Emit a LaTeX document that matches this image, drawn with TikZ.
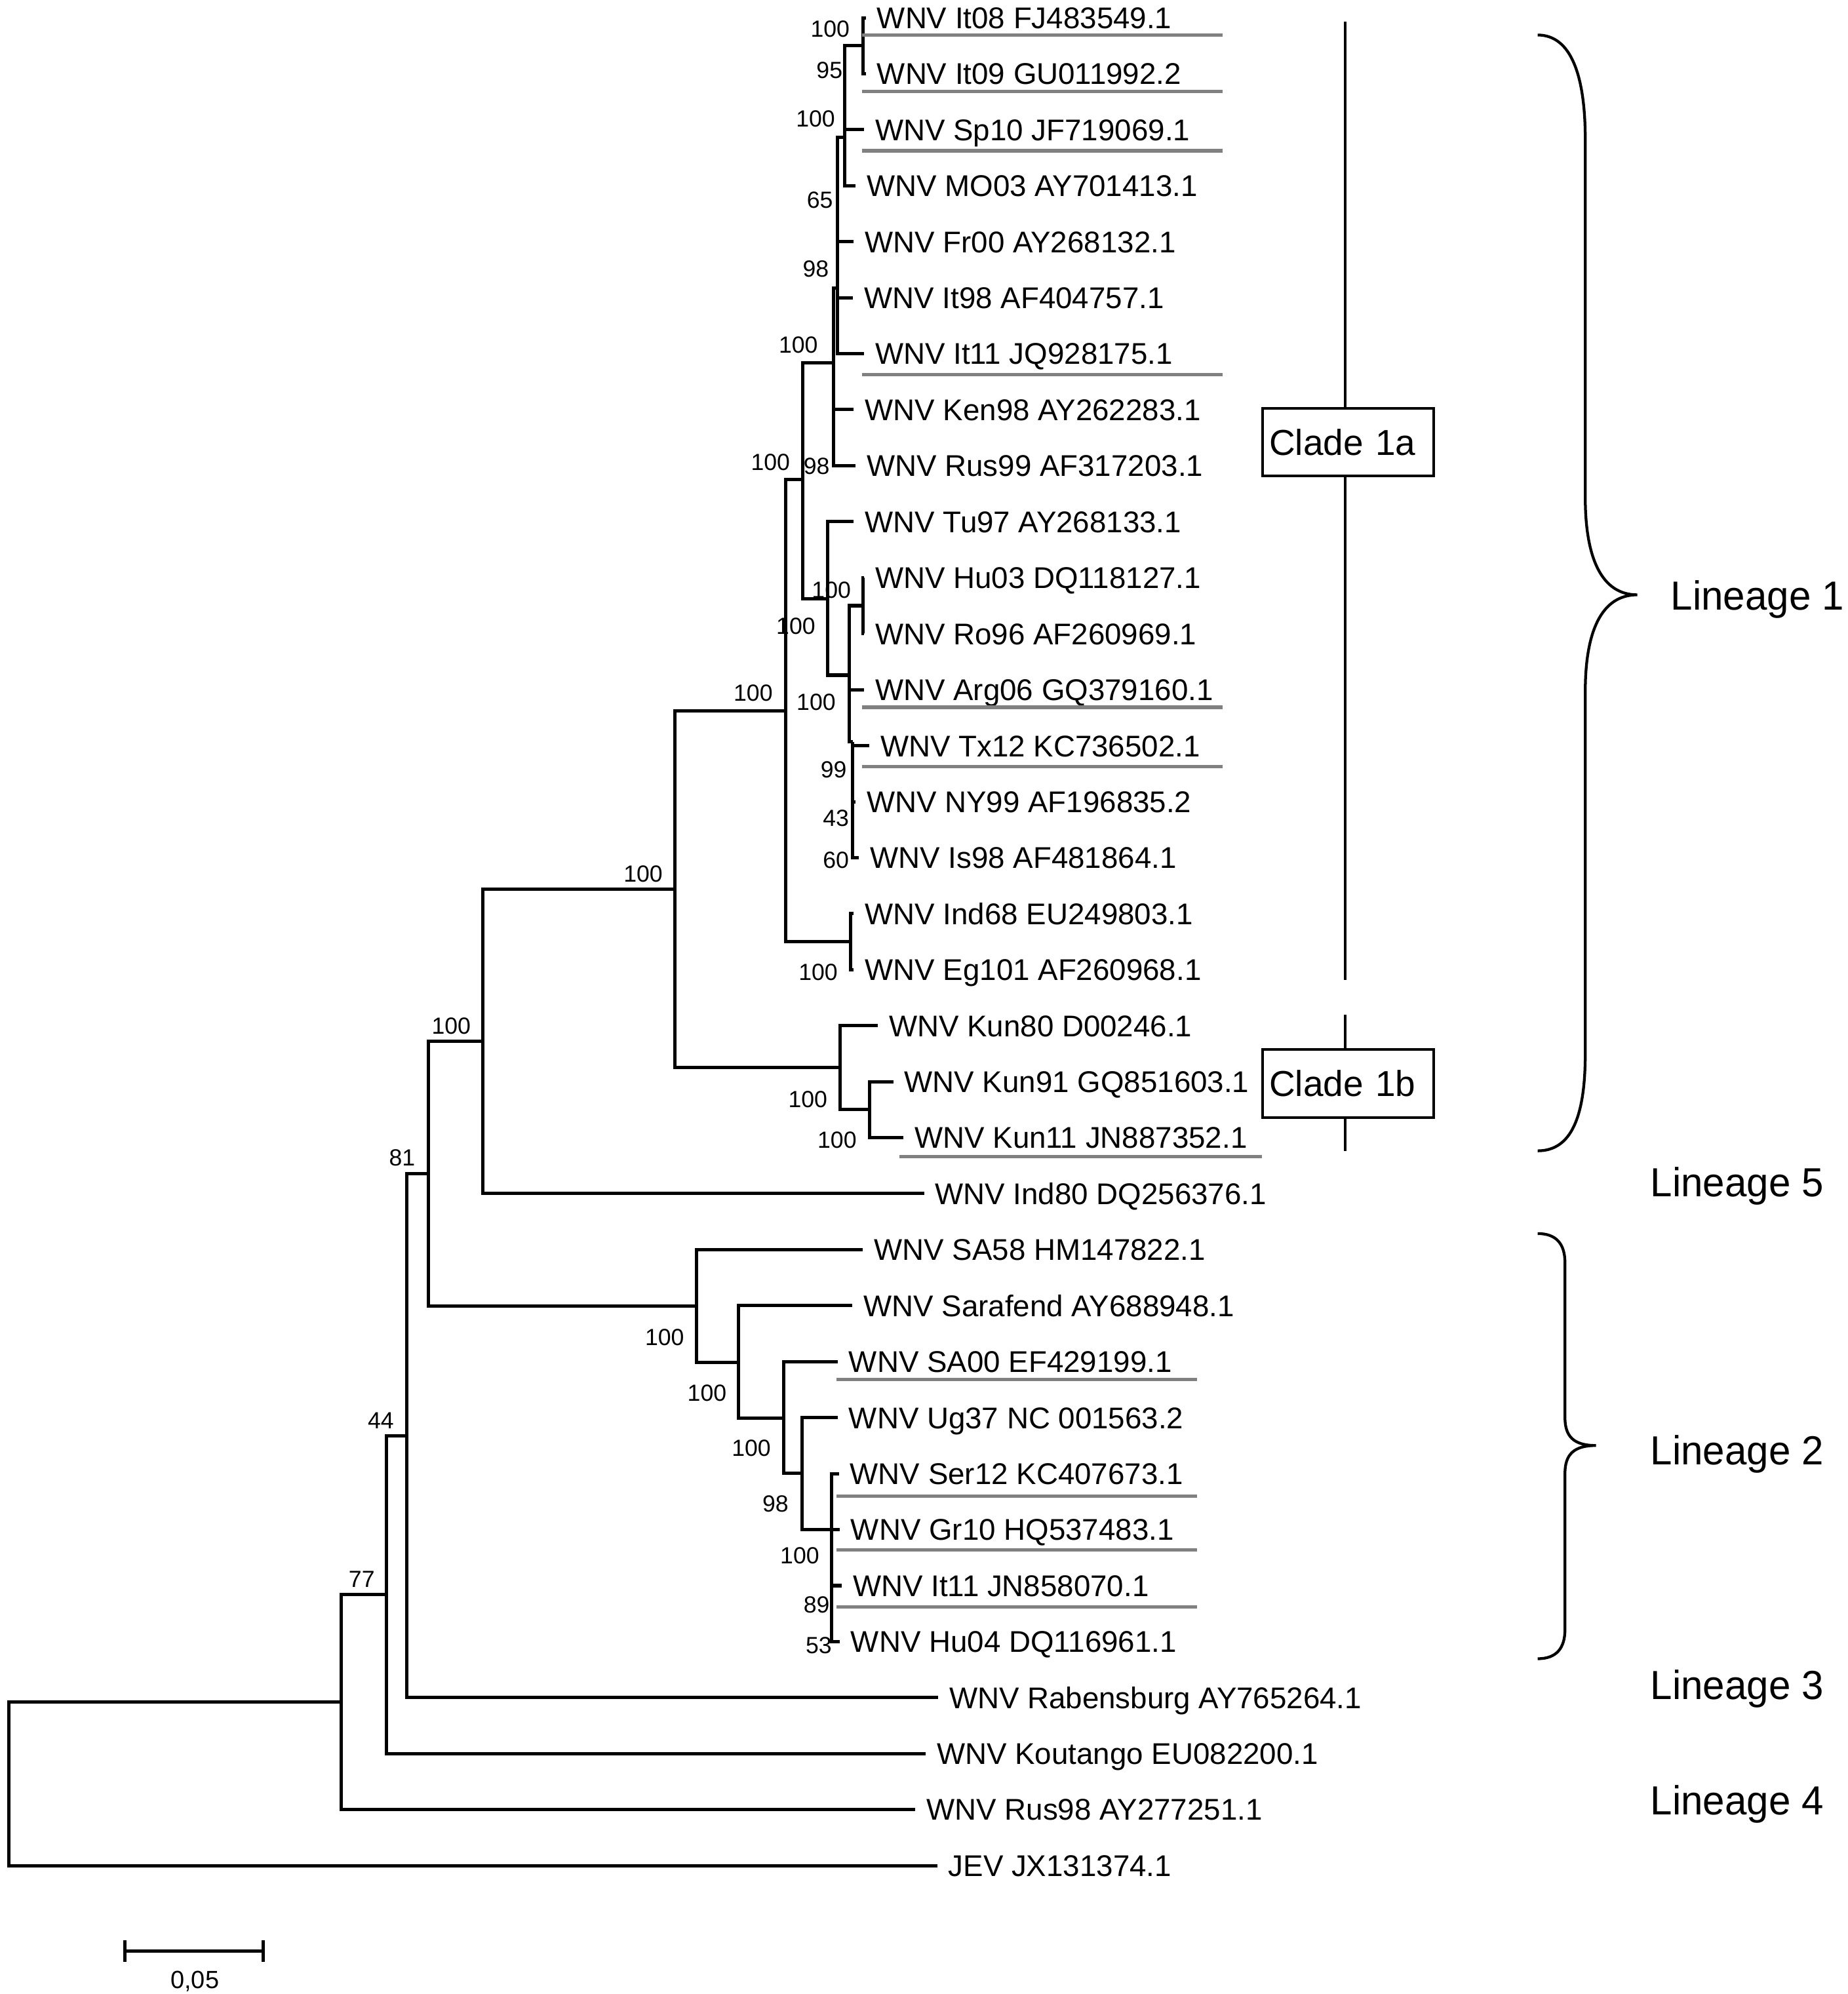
\documentclass[tikz,border=0pt]{standalone}
\usepackage{fontspec}
\setmainfont{Liberation Sans}

\definecolor{ulgrey}{RGB}{128,128,128}
\newcommand\leaffont{\fontsize{11.8}{14}\selectfont}
\newcommand\bootfont{\fontsize{9.2}{11}\selectfont}
\newcommand\linfont{\fontsize{16}{19}\selectfont}
\newcommand\cladefont{\fontsize{14.2}{17}\selectfont}
\newcommand\barfont{\fontsize{9.8}{12}\selectfont}

\tikzset{
  br/.style={draw=black,line width=1.3pt,line join=miter,to path={|- (\tikztotarget)}},
  leaf/.style={anchor=west,inner xsep=4.2pt,inner ysep=0pt,text height=8.45pt,text depth=0pt,font=\leaffont},
  boot/.style={inner sep=0pt,text height=6.6pt,text depth=0pt,font=\bootfont},
  lin/.style={anchor=base west,inner sep=0pt,font=\linfont},
  clade/.style={draw,line width=1.1pt,minimum width=67.35pt,minimum height=26.7pt,inner xsep=2.6pt,
    text width=62.15pt,align=left,text height=10.2pt,text depth=0pt,font=\cladefont},
  ul/.style={draw=ulgrey,line width=1.3pt},
  cl/.style={draw,line width=1.1pt},
  bracepath/.style={draw,line width=1.1pt}
}

\begin{document}
\begin{tikzpicture}[x=0.5pt,y=-0.5pt]
    \useasboundingbox (0,0) rectangle (1456,1571.2);

    % tips
    \node[leaf] (It08) at (682.2,14.0) {WNV It08 FJ483549.1};
    \node[leaf] (It09) at (682.2,58.1) {WNV It09 GU011992.2};
    \node[leaf] (Sp10) at (680.8,102.2) {WNV Sp10 JF719069.1};
    \node[leaf] (MO03) at (674.1,146.4) {WNV MO03 AY701413.1};
    \node[leaf] (Fr00) at (672.7,190.5) {WNV Fr00 AY268132.1};
    \node[leaf] (It98) at (672.2,234.6) {WNV It98 AF404757.1};
    \node[leaf] (It11a) at (680.8,278.7) {WNV It11 JQ928175.1};
    \node[leaf] (Ken98) at (672.7,322.8) {WNV Ken98 AY262283.1};
    \node[leaf] (Rus99) at (674.1,367.0) {WNV Rus99 AF317203.1};
    \node[leaf] (Tu97) at (672.7,411.1) {WNV Tu97 AY268133.1};
    \node[leaf] (Hu03) at (680.8,455.2) {WNV Hu03 DQ118127.1};
    \node[leaf] (Ro96) at (680.8,499.3) {WNV Ro96 AF260969.1};
    \node[leaf] (Arg06) at (680.8,543.4) {WNV Arg06 GQ379160.1};
    \node[leaf] (Tx12) at (684.9,587.6) {WNV Tx12 KC736502.1};
    \node[leaf] (NY99) at (674.1,631.7) {WNV NY99 AF196835.2};
    \node[leaf] (Is98) at (676.8,675.8) {WNV Is98 AF481864.1};
    \node[leaf] (Ind68) at (672.7,719.9) {WNV Ind68 EU249803.1};
    \node[leaf] (Eg101) at (672.7,764.0) {WNV Eg101 AF260968.1};
    \node[leaf] (Kun80) at (691.6,808.2) {WNV Kun80 D00246.1};
    \node[leaf] (Kun91) at (703.8,852.3) {WNV Kun91 GQ851603.1};
    \node[leaf] (Kun11) at (711.9,896.4) {WNV Kun11 JN887352.1};
    \node[leaf] (Ind80) at (728.0,940.5) {WNV Ind80 DQ256376.1};
    \node[leaf] (SA58) at (679.9,984.6) {WNV SA58 HM147822.1};
    \node[leaf] (Sarafend) at (671.6,1028.8) {WNV Sarafend AY688948.1};
    \node[leaf] (SA00) at (660.0,1072.9) {WNV SA00 EF429199.1};
    \node[leaf] (Ug37) at (660.0,1117.0) {WNV Ug37 NC 001563.2};
    \node[leaf] (Ser12) at (661.0,1161.1) {WNV Ser12 KC407673.1};
    \node[leaf] (Gr10) at (661.6,1205.2) {WNV Gr10 HQ537483.1};
    \node[leaf] (It11b) at (663.3,1249.4) {WNV It11 JN858070.1};
    \node[leaf] (Hu04) at (661.6,1293.5) {WNV Hu04 DQ116961.1};
    \node[leaf] (Rabens) at (739.1,1337.6) {WNV Rabensburg AY765264.1};
    \node[leaf] (Koutango) at (729.4,1381.7) {WNV Koutango EU082200.1};
    \node[leaf] (Rus98) at (721.2,1425.8) {WNV Rus98 AY277251.1};
    \node[leaf] (JEV) at (738.4,1470.0) {JEV JX131374.1};

    % inner nodes
    \coordinate (nIt) at (680,36.1);
    \coordinate (n665) at (665.5,108);
    \coordinate (n659) at (659.7,227);
    \coordinate (n657) at (656.8,286);
    \coordinate (n632) at (632.5,377.6);
    \coordinate (n652) at (652,472);
    \coordinate (n669) at (669.3,532);
    \coordinate (nHu) at (680,477.25);
    \coordinate (n672) at (671.7,584.5);
    \coordinate (n619) at (619,560);
    \coordinate (nInd) at (670.3,742);
    \coordinate (n530) at (531.5,700.7);
    \coordinate (nKun) at (662,841.3);
    \coordinate (nKun2) at (685.2,874.35);
    \coordinate (n380) at (380.3,820.6);
    \coordinate (n337) at (337.4,924.8);
    \coordinate (nL2) at (548.6,1029);
    \coordinate (nS) at (582,1073.3);
    \coordinate (nS2) at (617.5,1117.6);
    \coordinate (nS3) at (632,1161);
    \coordinate (nS4) at (655,1205.2);
    \coordinate (n320) at (320.5,1131.2);
    \coordinate (n305) at (304.5,1256.5);
    \coordinate (n269) at (269,1341.2);
    \coordinate (nR) at (7,1405.6);

    % branches
    \path (nIt) edge[br] (It08.west) edge[br] (It09.west);
    \path (n665) edge[br] (nIt) edge[br] (Sp10.west) edge[br] (MO03.west);
    \path (n659) edge[br] (n665) edge[br] (Fr00.west) edge[br] (It98.west) edge[br] (It11a.west);
    \path (n657) edge[br] (n659) edge[br] (Ken98.west) edge[br] (Rus99.west);
    \path (n632) edge[br] (n657) edge[br] (n652);
    \path (n652) edge[br] (Tu97.west) edge[br] (n669);
    \path (n669) edge[br] (nHu) edge[br] (Arg06.west) edge[br] (n672);
    \path (nHu) edge[br] (Hu03.west) edge[br] (Ro96.west);
    \path (n672) edge[br] (Tx12.west) edge[br] (NY99.west) edge[br] (Is98.west);
    \path (n619) edge[br] (n632) edge[br] (nInd);
    \path (nInd) edge[br] (Ind68.west) edge[br] (Eg101.west);
    \path (n530) edge[br] (n619) edge[br] (nKun);
    \path (nKun) edge[br] (Kun80.west) edge[br] (nKun2);
    \path (nKun2) edge[br] (Kun91.west) edge[br] (Kun11.west);
    \path (n380) edge[br] (n530) edge[br] (Ind80.west);
    \path (n337) edge[br] (n380) edge[br] (nL2);
    \path (nL2) edge[br] (SA58.west) edge[br] (nS);
    \path (nS) edge[br] (Sarafend.west) edge[br] (nS2);
    \path (nS2) edge[br] (SA00.west) edge[br] (nS3);
    \path (nS3) edge[br] (Ug37.west) edge[br] (nS4);
    \path (nS4) edge[br] (Ser12.west) edge[br] (Gr10.west) edge[br] (It11b.west) edge[br] (Hu04.west);
    \path (n320) edge[br] (n337) edge[br] (Rabens.west);
    \path (n305) edge[br] (n320) edge[br] (Koutango.west);
    \path (n269) edge[br] (n305) edge[br] (Rus98.west);
    \path (nR) edge[br] (n269) edge[br] (JEV.west);

    % bootstrap values
    \node[boot] (bA) at (654,22.5) {100};
    \node[boot] (bB) at (653.5,55) {95};
    \node[boot] (bC) at (642.5,93.5) {100};
    \node[boot] (bD) at (646,157.5) {65};
    \node[boot] (bE) at (642.7,211.6) {98};
    \node[boot] (bF) at (629,271.4) {100};
    \node[boot] (bG) at (607,364) {100};
    \node[boot] (bH) at (643.4,367.3) {98};
    \node[boot] (bI) at (655,464.7) {100};
    \node[boot] (bJ) at (627,493.3) {100};
    \node[boot] (bK) at (593.4,546) {100};
    \node[boot] (bL) at (643,553) {100};
    \node[boot] (bM) at (656.8,606.4) {99};
    \node[boot] (bN) at (658.6,644.6) {43};
    \node[boot] (bO) at (658.6,677.6) {60};
    \node[boot] (bP) at (644.6,766) {100};
    \node[boot] (bQ) at (636.5,866) {100};
    \node[boot] (bR) at (659.5,898) {100};
    \node[boot] (bS) at (506.7,688.2) {100};
    \node[boot] (bT) at (355.5,808) {100};
    \node[boot] (bU) at (316.8,912) {81};
    \node[boot] (bV) at (300,1119) {44};
    \node[boot] (bW) at (285,1244) {77};
    \node[boot] (bX) at (523.6,1053.7) {100};
    \node[boot] (bY) at (557,1097.3) {100};
    \node[boot] (bZ) at (591.9,1141) {100};
    \node[boot] (bAA) at (611,1184.7) {98};
    \node[boot] (bAB) at (630.1,1225.6) {100};
    \node[boot] (bAC) at (643.4,1264.2) {89};
    \node[boot] (bAD) at (645.1,1296.1) {53};

    % grey underlines
    \draw[ul] (679,27.5) -- (963,27.5);
    \draw[ul] (679,72.3) -- (963,72.3);
    \draw[ul] (679,118.8) -- (963,118.8);
    \draw[ul] (679,295) -- (963,295);
    \draw[ul] (679,557.3) -- (963,557.3);
    \draw[ul] (679,603.9) -- (963,603.9);
    \draw[ul] (708.5,911.5) -- (994,911.5);
    \draw[ul] (659,1087) -- (943,1087);
    \draw[ul] (659,1179) -- (943,1179);
    \draw[ul] (659,1221.5) -- (943,1221.5);
    \draw[ul] (659,1266) -- (943,1266);

    % clades
    \node[clade] (c1a) at (1062.2,348.3) {Clade 1a};
    \node[clade] (c1b) at (1062.2,853.8) {Clade 1b};
    \coordinate (cTop) at (1060,17);
    \coordinate (cMid1) at (1060,772);
    \coordinate (cMid2) at (1060,799.6);
    \coordinate (cBot) at (1060,906.8);
    \draw[cl] (cTop) -- (cTop |- c1a.north);
    \draw[cl] (cTop |- c1a.south) -- (cMid1);
    \draw[cl] (cMid2) -- (cMid2 |- c1b.north);
    \draw[cl] (cMid2 |- c1b.south) -- (cBot);

    % braces
    \draw[bracepath] (1211.5,27.6) .. controls (1238,27.6) and (1249,60) .. (1249,110)
        -- (1249,392) .. controls (1249,440) and (1262,468.7) .. (1290,468.7)
        .. controls (1262,468.7) and (1249,497) .. (1249,545)
        -- (1249,830) .. controls (1249,880) and (1238,906.8) .. (1211.5,906.8);
    \draw[bracepath] (1211.5,972) .. controls (1226,972) and (1233,980) .. (1233,995)
        -- (1233,1117) .. controls (1233,1132) and (1240,1139) .. (1257.5,1139)
        .. controls (1240,1139) and (1233,1146) .. (1233,1161)
        -- (1233,1284) .. controls (1233,1299) and (1226,1307) .. (1211.5,1307);

    % lineages
    \node[lin] (lin1) at (1316,480.6) {\scalebox{0.97}[1]{Lineage 1}};
    \node[lin] (lin5) at (1300,943) {\scalebox{0.97}[1]{Lineage 5}};
    \node[lin] (lin2) at (1300,1154) {\scalebox{0.97}[1]{Lineage 2}};
    \node[lin] (lin3) at (1300,1339) {\scalebox{0.97}[1]{Lineage 3}};
    \node[lin] (lin4) at (1300,1430) {\scalebox{0.97}[1]{Lineage 4}};

    % scale bar
    \coordinate (sbL) at (98.6,1537.4);
    \coordinate (sbR) at (207.3,1537.4);
    \draw[line width=1.3pt] (sbL) -- (sbR);
    \draw[line width=1.3pt] ([yshift=4.3pt]sbL) -- ([yshift=-4.3pt]sbL);
    \draw[line width=1.3pt] ([yshift=4.3pt]sbR) -- ([yshift=-4.3pt]sbR);
    \node[inner sep=0pt,text height=7pt,text depth=0pt,font=\barfont] (sbT) at (153.5,1560) {0,05};
\end{tikzpicture}
\end{document}
